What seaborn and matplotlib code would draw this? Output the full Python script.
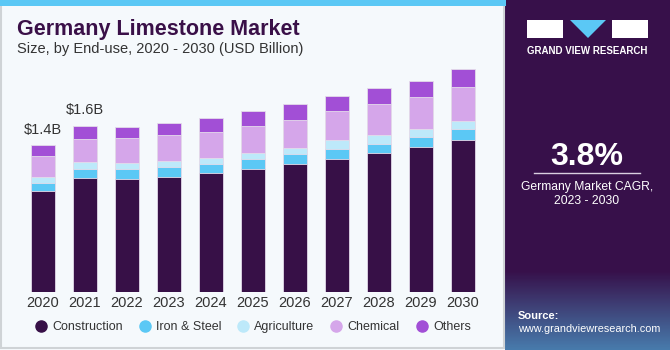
import numpy as np
import pandas as pd
import seaborn as sns
import matplotlib.pyplot as plt
from matplotlib.lines import Line2D
from matplotlib.patches import Rectangle, Polygon

years = ["2020", "2021", "2022", "2023", "2024", "2025", "2026", "2027", "2028", "2029", "2030"]
construction = [0.96, 1.09, 1.08, 1.10, 1.13, 1.17, 1.22, 1.27, 1.32, 1.38, 1.45]
iron_steel = [0.08, 0.08, 0.09, 0.09, 0.09, 0.095, 0.095, 0.09, 0.09, 0.095, 0.105]
agriculture = [0.055, 0.065, 0.055, 0.057, 0.057, 0.057, 0.057, 0.085, 0.085, 0.078, 0.078]
chemical = [0.20, 0.22, 0.24, 0.25, 0.25, 0.26, 0.27, 0.28, 0.30, 0.30, 0.32]
others = [0.105, 0.13, 0.11, 0.11, 0.13, 0.14, 0.15, 0.14, 0.15, 0.16, 0.17]
segments = ["Construction", "Iron & Steel", "Agriculture", "Chemical", "Others"]
colors = ["#371047", "#5bc8f5", "#bde9fa", "#d5a6ea", "#a24fd6"]
bar_labels = {0: "$1.4B", 1: "$1.6B"}

df = pd.DataFrame({"year": years, "Construction": construction, "Iron & Steel": iron_steel,
                   "Agriculture": agriculture, "Chemical": chemical, "Others": others})
cum = df[segments].cumsum(axis=1)

plt.rcParams["font.family"] = ["Liberation Sans", "DejaVu Sans"]

bg = "#f5f9fc"
fig = plt.figure(figsize=(6.7, 3.5), dpi=100)
fig.patch.set_facecolor(bg)

# frame + top stripe
fig.add_artist(Rectangle((0.002, 0.005), 0.75, 0.99, transform=fig.transFigure,
                         facecolor="none", edgecolor="#cfd3d6", lw=1.5))
fig.add_artist(Rectangle((0, 0.982), 0.755, 0.018, transform=fig.transFigure,
                         facecolor="#5bc8f5", edgecolor="none"))

ax = fig.add_axes([22 / 670, 58 / 350, 462 / 670, 232 / 350])
ax.set_facecolor(bg)

# draw stacked bars from the top down so each layer overlaps the one below
for seg, col in reversed(list(zip(segments, colors))):
    sns.barplot(x=df["year"], y=cum[seg], color=col, saturation=1, width=0.57, ax=ax,
                edgecolor="#e4dcea", linewidth=0.6, order=years)

for i, lab in bar_labels.items():
    ax.text(i, cum["Others"][i] + 0.08, lab, ha="center", va="bottom", fontsize=10.5, color="#333333")

ax.set_xlim(-0.5, 10.5)
ax.set_ylim(0, 2.21)
ax.set_xlabel("")
ax.set_ylabel("")
ax.set_yticks([])
ax.tick_params(axis="x", length=0, pad=3, labelsize=10.5, labelcolor="#333333")
for s in ax.spines.values():
    s.set_visible(False)

fig.text(17 / 670, 1 - 29 / 350, "Germany Limestone Market", fontsize=15.5, fontweight="heavy",
         color="#3a1048", va="center", ha="left")
fig.text(17 / 670, 1 - 49 / 350, "Size, by End-use, 2020 - 2030 (USD Billion)", fontsize=10.5,
         color="#333333", va="center", ha="left")

handles = [Line2D([], [], marker="o", ls="", markersize=8, markerfacecolor=c, markeredgecolor=c)
           for c in colors]
fig.legend(handles, segments, loc="center", bbox_to_anchor=(253 / 670, 1 - 327 / 350), ncol=5,
           frameon=False, fontsize=9, handlelength=0.9, handletextpad=0.45, columnspacing=1.3,
           labelcolor="#333333")

# right panel
px0 = 505 / 670
panel = fig.add_axes([px0, 0, 1 - px0, 1])
panel.set_xlim(0, 165)
panel.set_ylim(350, 0)
panel.axis("off")
panel.add_patch(Rectangle((0, 0), 165, 350, facecolor="#37104a", edgecolor="none"))
grad = np.linspace(0, 1, 100)[:, None]
panel.imshow(grad, extent=(0, 165, 350, 270), cmap=sns.blend_palette(["#37104a", "#4a88b8"], as_cmap=True),
             aspect="auto", alpha=0.9, zorder=1)

# logo
panel.add_patch(Rectangle((22, 20), 36, 18, facecolor="white", zorder=2))
panel.add_patch(Polygon([(65, 20), (101, 20), (83, 38)], facecolor="#5bc8f5", zorder=2))
panel.add_patch(Rectangle((107, 20), 36, 18, facecolor="white", zorder=2))
panel.text(82, 51, "GRAND VIEW RESEARCH", color="white", fontsize=7, fontweight="bold",
           ha="center", va="center", zorder=3)

panel.text(82, 157, "3.8%", color="white", fontsize=23, fontweight="bold", ha="center", va="center", zorder=3)
panel.plot([29, 135], [173, 173], color="#d9cfe0", lw=1, zorder=3)
panel.text(82, 187, "Germany Market CAGR,", color="white", fontsize=8.7, ha="center", va="center", zorder=3)
panel.text(82, 201, "2023 - 2030", color="white", fontsize=8.7, ha="center", va="center", zorder=3)
panel.text(13, 316, "Source:", color="white", fontsize=8, fontweight="bold", ha="left", va="center", zorder=3)
panel.text(13, 329, "www.grandviewresearch.com", color="white", fontsize=7.8, ha="left", va="center", zorder=3)

fig.savefig("out.png", dpi=100, facecolor=fig.get_facecolor())
